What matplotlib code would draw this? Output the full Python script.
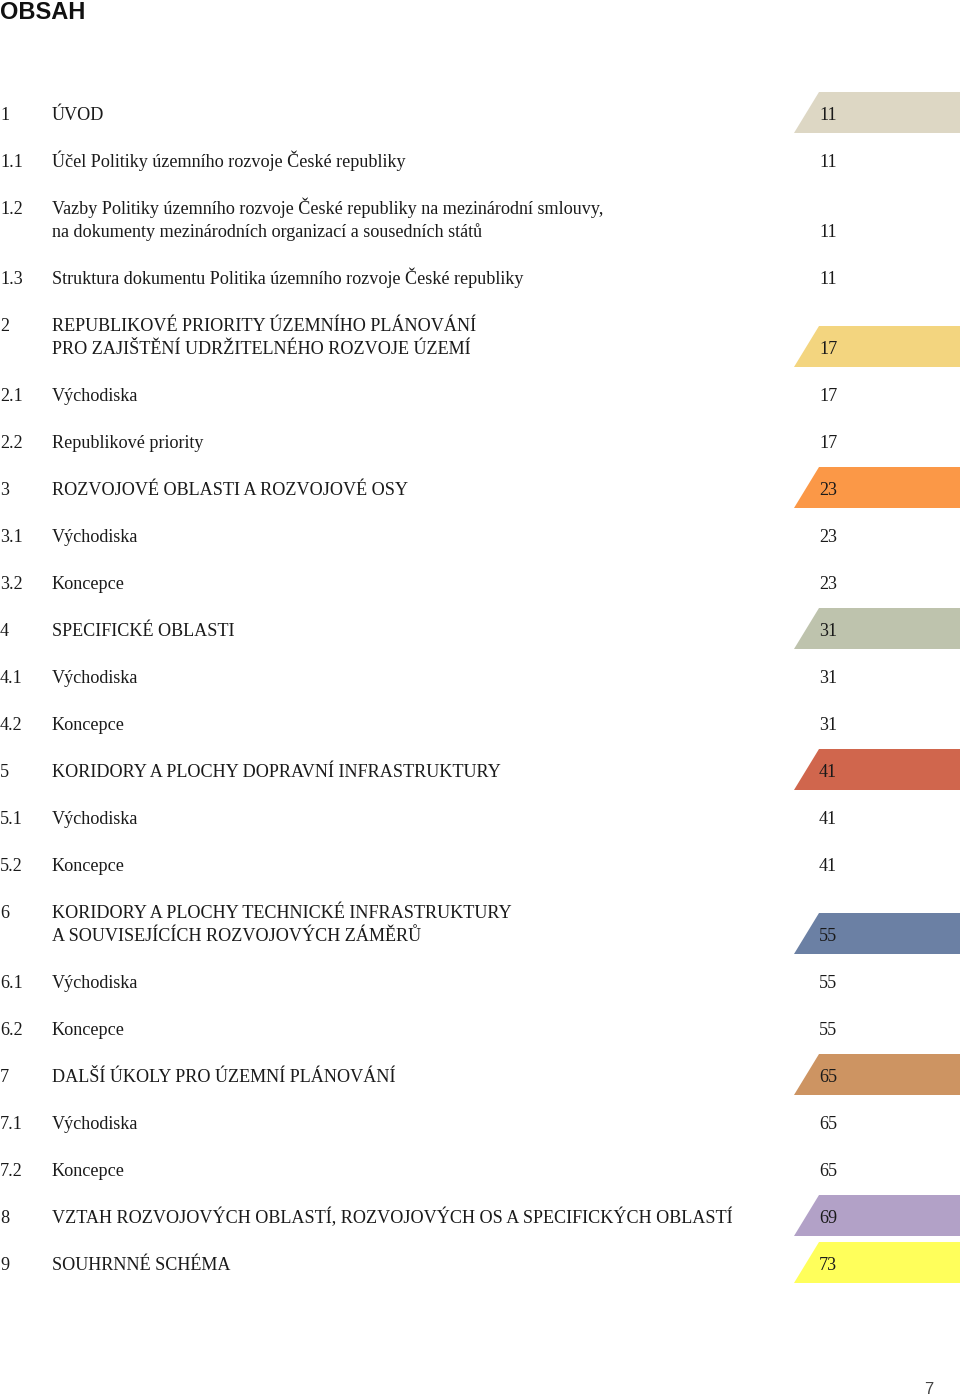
import matplotlib.pyplot as plt
from matplotlib.patches import Polygon

nums = ["1", "1.1", "1.2", "1.3", "2", "2.1", "2.2", "3", "3.1", "3.2", "4", "4.1", "4.2",
        "5", "5.1", "5.2", "6", "6.1", "6.2", "7", "7.1", "7.2", "8", "9"]
titles = [
    "ÚVOD",
    "Účel Politiky územního rozvoje České republiky",
    "Vazby Politiky územního rozvoje České republiky na mezinárodní smlouvy,\nna dokumenty mezinárodních organizací a sousedních států",
    "Struktura dokumentu Politika územního rozvoje České republiky",
    "REPUBLIKOVÉ PRIORITY ÚZEMNÍHO PLÁNOVÁNÍ\nPRO ZAJIŠTĚNÍ UDRŽITELNÉHO ROZVOJE ÚZEMÍ",
    "Východiska",
    "Republikové priority",
    "ROZVOJOVÉ OBLASTI A ROZVOJOVÉ OSY",
    "Východiska",
    "Koncepce",
    "SPECIFICKÉ OBLASTI",
    "Východiska",
    "Koncepce",
    "KORIDORY A PLOCHY DOPRAVNÍ INFRASTRUKTURY",
    "Východiska",
    "Koncepce",
    "KORIDORY A PLOCHY TECHNICKÉ INFRASTRUKTURY\nA SOUVISEJÍCÍCH ROZVOJOVÝCH ZÁMĚRŮ",
    "Východiska",
    "Koncepce",
    "DALŠÍ ÚKOLY PRO ÚZEMNÍ PLÁNOVÁNÍ",
    "Východiska",
    "Koncepce",
    "VZTAH ROZVOJOVÝCH OBLASTÍ, ROZVOJOVÝCH OS A SPECIFICKÝCH OBLASTÍ",
    "SOUHRNNÉ SCHÉMA",
]
pages = [11, 11, 11, 11, 17, 17, 17, 23, 23, 23, 31, 31, 31,
         41, 41, 41, 55, 55, 55, 65, 65, 65, 69, 73]
tab_colors = {"1": "#DDD7C4", "2": "#F3D57F", "3": "#FB9847", "4": "#BEC3AD",
              "5": "#D0664D", "6": "#6B80A4", "7": "#CD9462", "8": "#B2A1C7",
              "9": "#FFFF5B"}

W, H = 960, 1396
fig = plt.figure(figsize=(W / 100, H / 100), dpi=100)
ax = fig.add_axes([0, 0, 1, 1])
ax.set_xlim(0, W)
ax.set_ylim(H, 0)
ax.axis("off")

serif = "Liberation Serif"
fs = 13.1
ink = "#1a1a1a"
ax.text(0, 19, "OBSAH", fontsize=17, fontweight="bold", family="Liberation Sans",
        va="baseline", ha="left", color="#111111")

y = 114
for n, t, p in zip(nums, titles, pages):
    lines = t.split("\n")
    ax.text(0, y + 6, n, fontsize=fs, family=serif, va="baseline", ha="left", color=ink)
    for i, ln in enumerate(lines):
        ax.text(52, y + 6 + i * 23, ln, fontsize=fs, family=serif, va="baseline",
                ha="left", color=ink)
    yl = y + (len(lines) - 1) * 23
    if n in tab_colors:
        top, bot = yl - 22, yl + 19
        ax.add_patch(Polygon([(819, top), (W, top), (W, bot), (794, bot)],
                             closed=True, facecolor=tab_colors[n], edgecolor="none", zorder=0))
    ax.text(819, yl + 6, str(p), fontsize=fs, family=serif, va="baseline", ha="left", color=ink)
    y = yl + 47

ax.text(929, 1394, "7", fontsize=12, family="Liberation Sans", va="baseline", ha="center",
        color="#444444")

fig.savefig("out.png", dpi=100)
